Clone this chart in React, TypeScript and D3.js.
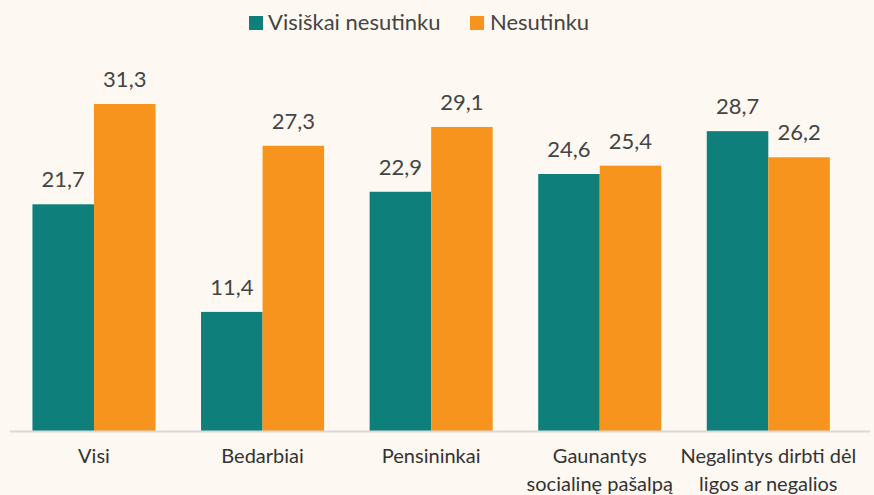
import React from "react";
import * as d3 from "d3";

const categories: string[][] = [
  ["Visi"],
  ["Bedarbiai"],
  ["Pensininkai"],
  ["Gaunantys", "socialinę pašalpą"],
  ["Negalintys dirbti dėl", "ligos ar negalios"],
];
const seriesNames = ["Visiškai nesutinku", "Nesutinku"];
const seriesA = [21.7, 11.4, 22.9, 24.6, 28.7];
const seriesB = [31.3, 27.3, 29.1, 25.4, 26.2];
const colors = ["#0e7f7a", "#f7941d"];

const W = 874;
const H = 495;
const FONT = "Lato, 'Noto Sans', sans-serif";

export default function App() {
  const x = d3
    .scaleBand<number>()
    .domain(categories.map((_, i) => i))
    .range([9.7, 852.6])
    .paddingInner(0.27)
    .paddingOuter(0.135);
  const x1 = d3.scaleBand<number>().domain([0, 1]).range([0, x.bandwidth()]);
  const y = d3.scaleLinear().domain([0, 31.3]).range([431, 104]);
  const series = [seriesA, seriesB];
  const fmt = (v: number) => v.toFixed(1).replace(".", ",");

  return (
    <svg
      width={W}
      height={H}
      style={{ position: "absolute", left: 0, top: 0, background: "#fdf8f1" }}
      fontFamily={FONT}
    >
      <rect x={0} y={0} width={W} height={H} fill="#fdf8f1" />
      <g>
        <rect x={249} y={16} width={14} height={14} fill={colors[0]} />
        <text x={268} y={30} fontSize={22} fill="#444">
          {seriesNames[0]}
        </text>
        <rect x={470} y={16} width={14} height={14} fill={colors[1]} />
        <text x={490} y={30} fontSize={22} fill="#444">
          {seriesNames[1]}
        </text>
      </g>
      {categories.map((cat, i) => (
        <g key={i} transform={`translate(${x(i)},0)`}>
          {series.map((s, j) => (
            <g key={j}>
              <rect
                x={x1(j)}
                y={y(s[i])}
                width={x1.bandwidth()}
                height={y(0) - y(s[i])}
                fill={colors[j]}
              />
              <text
                x={(x1(j) as number) + x1.bandwidth() / 2}
                y={y(s[i]) - 17}
                textAnchor="middle"
                fontSize={22}
                fill="#444"
              >
                {fmt(s[i])}
              </text>
            </g>
          ))}
          {cat.map((line, k) => (
            <text
              key={k}
              x={x.bandwidth() / 2}
              y={463 + k * 28}
              textAnchor="middle"
              fontSize={20}
              fill="#333"
            >
              {line}
            </text>
          ))}
        </g>
      ))}
      <line x1={10} x2={870} y1={431.5} y2={431.5} stroke="#d9d9d9" strokeWidth={2} />
    </svg>
  );
}
